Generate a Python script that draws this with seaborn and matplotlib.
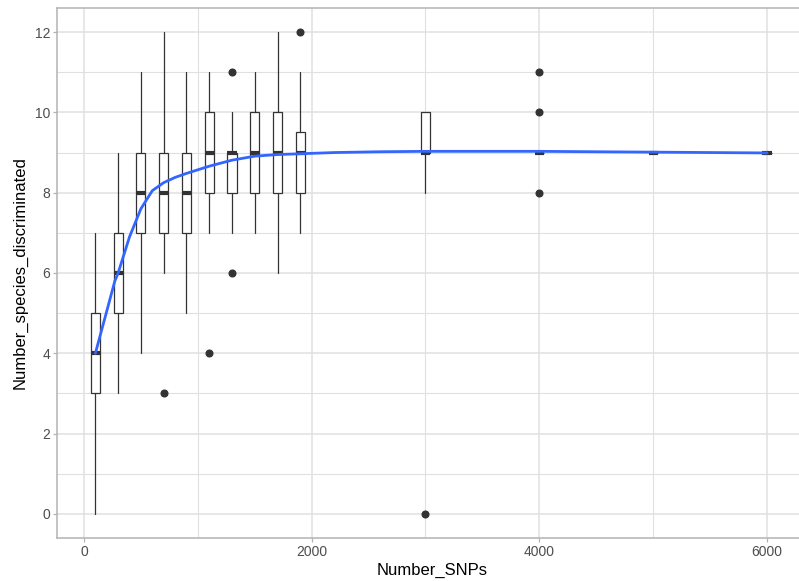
import matplotlib
matplotlib.use("Agg")
import matplotlib.pyplot as plt
import seaborn as sns
import pandas as pd

# ---- data ----
positions = [100, 300, 500, 700, 900, 1100, 1300, 1500, 1700, 1900, 3000, 4000, 5000, 6000]
whisker_low = [0, 3, 4, 6, 5, 7, 7, 7, 6, 7, 8, 9, 9, 9]
q1 = [3, 5, 7, 7, 7, 8, 8, 8, 8, 8, 9, 9, 9, 9]
median = [4, 6, 8, 8, 8, 9, 9, 9, 9, 9, 9, 9, 9, 9]
q3 = [5, 7, 9, 9, 9, 10, 9, 10, 10, 9.5, 10, 9, 9, 9]
whisker_high = [7, 9, 11, 12, 11, 11, 10, 11, 12, 11, 10, 9, 9, 9]
outliers = [[], [], [], [3], [], [4], [6, 11], [], [], [12], [0], [8, 10, 11], [], []]

smooth_x = [100, 200, 271, 300, 400, 500, 600, 700, 800, 900, 1000, 1100, 1300, 1500,
            1700, 1900, 2200, 2600, 3000, 3500, 4000, 4500, 5000, 5500, 6000]
smooth_y = [4.0, 5.05, 5.8, 6.0, 6.9, 7.6, 8.05, 8.25, 8.38, 8.48, 8.57, 8.66, 8.81, 8.91,
            8.95, 8.97, 9.0, 9.02, 9.03, 9.03, 9.03, 9.02, 9.01, 9.0, 8.99]

x_ticks = [0, 2000, 4000, 6000]
y_ticks = [0, 2, 4, 6, 8, 10, 12]

# ---- styling ----
sns.set_theme(style="white")
plt.rcParams['font.family'] = ['Liberation Sans Narrow', 'Liberation Sans', 'DejaVu Sans']

W, H = 799, 581
fig = plt.figure(figsize=(W / 100, H / 100), dpi=100)
left, right, top, bottom = 57, 808, 8, 538
ax = fig.add_axes([left / W, (H - bottom) / H, (right - left) / W, (bottom - top) / H])

grid_c = '#E0E0E0'
for v in [1000, 3000, 5000]:
    ax.axvline(v, color=grid_c, lw=0.8, zorder=0)
for v in x_ticks:
    ax.axvline(v, color=grid_c, lw=1.1, zorder=0)
for v in [1, 3, 5, 7, 9, 11]:
    ax.axhline(v, color=grid_c, lw=0.8, zorder=0)
for v in y_ticks:
    ax.axhline(v, color=grid_c, lw=1.1, zorder=0)

stats = []
for i in range(len(positions)):
    stats.append(dict(med=median[i], q1=q1[i], q3=q3[i], whislo=whisker_low[i],
                      whishi=whisker_high[i], fliers=outliers[i]))

ax.bxp(stats, positions=positions, widths=80, showcaps=False, patch_artist=True,
       boxprops=dict(facecolor='white', edgecolor='#333333', linewidth=0.9),
       whiskerprops=dict(color='#333333', linewidth=0.9),
       medianprops=dict(color='#333333', linewidth=3.0, solid_capstyle='butt'),
       flierprops=dict(marker='o', markerfacecolor='#333333', markeredgecolor='#333333',
                       markersize=4.8, linestyle='none'),
       manage_ticks=False, zorder=2)

df_smooth = pd.DataFrame({'Number_SNPs': smooth_x, 'Number_species_discriminated': smooth_y})
sns.lineplot(data=df_smooth, x='Number_SNPs', y='Number_species_discriminated',
             color='#3366FF', linewidth=2.0, ax=ax, zorder=3)

ax.set_xlim(-237, 6360)
ax.set_ylim(-0.6, 12.6)
ax.set_xticks(x_ticks)
ax.set_yticks(y_ticks)
ax.set_xticklabels([str(v) for v in x_ticks])
ax.set_yticklabels([str(v) for v in y_ticks])

for s in ['left', 'bottom', 'top', 'right']:
    ax.spines[s].set_color('#B3B3B3')
    ax.spines[s].set_linewidth(1.1)

ax.tick_params(axis='both', which='major', length=3, width=0.9, color='#B3B3B3',
               labelcolor='#4D4D4D', labelsize=10, pad=2, direction='out',
               left=True, bottom=True)
ax.set_xlabel('Number_SNPs', fontsize=12, color='black', labelpad=3)
ax.set_ylabel('Number_species_discriminated', fontsize=12, color='black', labelpad=5)
ax.grid(False)

fig.savefig('out.png', dpi=100)
